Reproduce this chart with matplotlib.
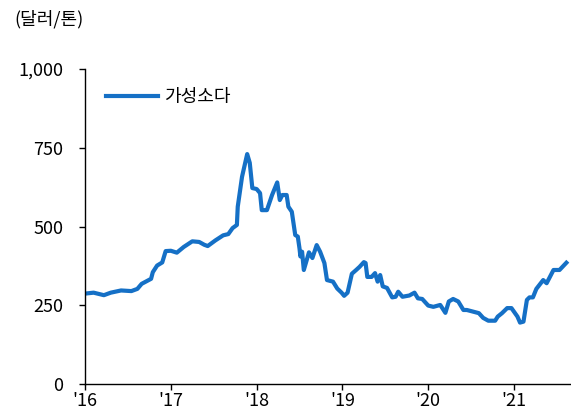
import matplotlib
matplotlib.use('Agg')
import matplotlib.pyplot as plt
import numpy as np

plt.rcParams['font.family'] = ['Noto Sans CJK KR', 'DejaVu Sans']

# caustic soda price, USD/ton (decimal year, value)
years = [2016.00, 2016.10, 2016.22, 2016.30, 2016.42, 2016.54, 2016.61, 2016.66,
         2016.77, 2016.79, 2016.84, 2016.90, 2016.94, 2017.00, 2017.07, 2017.15,
         2017.25, 2017.33, 2017.39, 2017.43, 2017.52, 2017.61, 2017.67, 2017.72,
         2017.77, 2017.78, 2017.83, 2017.89, 2017.92, 2017.95, 2018.00, 2018.04,
         2018.06, 2018.12, 2018.18, 2018.24, 2018.27, 2018.30, 2018.35, 2018.37,
         2018.41, 2018.45, 2018.48, 2018.50, 2018.51, 2018.53, 2018.55, 2018.61,
         2018.65, 2018.70, 2018.74, 2018.79, 2018.82, 2018.89, 2018.94, 2018.99,
         2019.02, 2019.06, 2019.11, 2019.16, 2019.20, 2019.25, 2019.27, 2019.29,
         2019.34, 2019.38, 2019.41, 2019.44, 2019.47, 2019.52, 2019.58, 2019.62,
         2019.65, 2019.70, 2019.78, 2019.84, 2019.88, 2019.93, 2020.00, 2020.06,
         2020.14, 2020.20, 2020.24, 2020.29, 2020.35, 2020.41, 2020.45, 2020.52,
         2020.59, 2020.64, 2020.70, 2020.78, 2020.81, 2020.86, 2020.92, 2020.97,
         2021.04, 2021.07, 2021.11, 2021.15, 2021.18, 2021.22, 2021.26, 2021.34,
         2021.38, 2021.46, 2021.53, 2021.61]
price = [287, 290, 282, 290, 297, 295, 302, 318,
         334, 355, 376, 386, 422, 423, 417, 435,
         453, 451, 442, 438, 456, 472, 476, 495,
         505, 563, 658, 730, 702, 622, 619, 606,
         552, 552, 600, 640, 584, 600, 600, 563,
         547, 473, 468, 430, 405, 420, 362, 418,
         400, 441, 420, 384, 330, 325, 303, 290,
         280, 290, 350, 362, 372, 387, 384, 340,
         340, 352, 325, 346, 310, 305, 275, 277,
         293, 277, 281, 290, 272, 270, 249, 245,
         251, 226, 262, 270, 262, 235, 235, 230,
         225, 210, 201, 201, 214, 225, 241, 241,
         214, 195, 198, 267, 275, 275, 302, 330,
         320, 362, 362, 385]

tick_years = [2016, 2017, 2018, 2019, 2020, 2021]
tick_labels = ["'16", "'17", "'18", "'19", "'20", "'21"]
y_ticks = [0, 250, 500, 750, 1000]
y_labels = ['0', '250', '500', '750', '1,000']

fig = plt.figure(figsize=(5.71, 4.18), dpi=100)
ax = fig.add_axes([0.1489, 0.0813, 0.8511, 0.7536])

ax.plot(years, price, color='#1570c6', linewidth=3.0, solid_joinstyle='round',
        label='가성소다')

ax.set_xlim(2016, 2021.664)
ax.set_ylim(0, 1000)
ax.set_xticks(tick_years)
ax.set_xticklabels(tick_labels)
ax.set_yticks(y_ticks)
ax.set_yticklabels(y_labels)

for side in ['top', 'right']:
    ax.spines[side].set_visible(False)
for side in ['left', 'bottom']:
    ax.spines[side].set_linewidth(1.0)
    ax.spines[side].set_color('black')

ax.tick_params(axis='y', direction='out', length=4.5, width=1.0, pad=11,
               labelsize=13, colors='black')
ax.tick_params(axis='x', direction='out', length=4.5, width=1.0, pad=1.5,
               labelsize=13, colors='black')

ax.legend(loc='center left', bbox_to_anchor=(0.043, 0.911), frameon=False,
          fontsize=13, handlelength=2.9, handletextpad=0.3,
          borderpad=0, borderaxespad=0)

fig.text(0.026, 0.955, '(달러/톤)', fontsize=13, ha='left', va='center')

fig.savefig('out.png', dpi=100)
